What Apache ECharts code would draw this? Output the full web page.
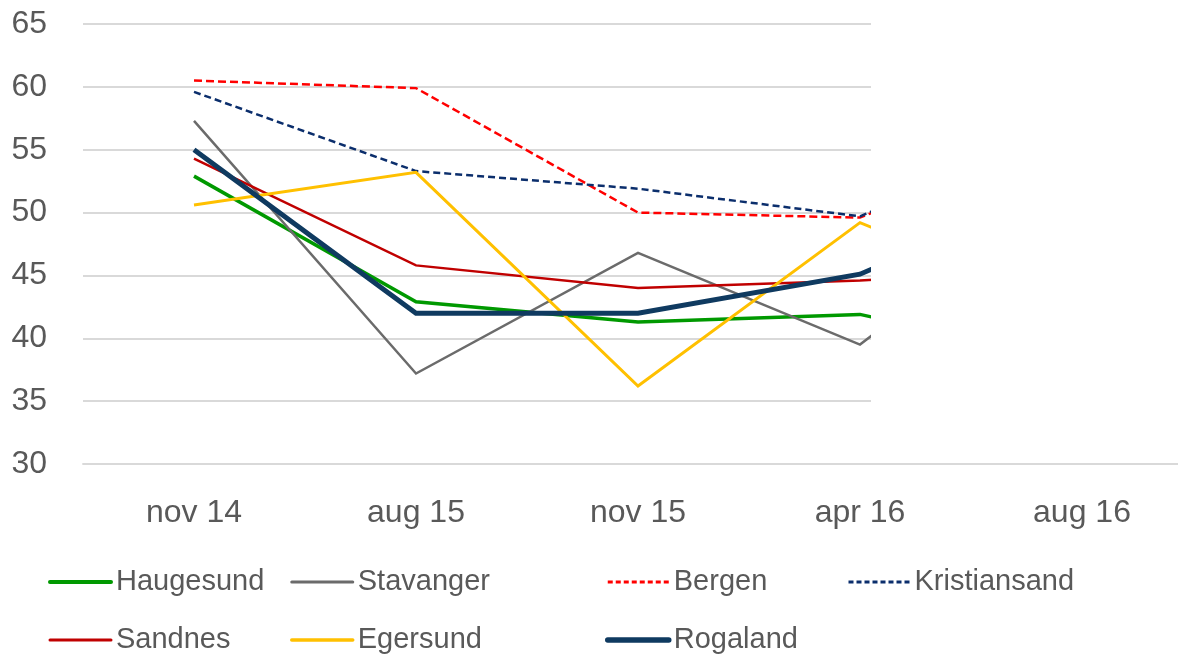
<!DOCTYPE html>
<html>
<head>
<meta charset="utf-8">
<script src="https://cdn.jsdelivr.net/npm/echarts@6/dist/echarts.min.js"></script>
<style>
  html, body { margin: 0; padding: 0; background: #ffffff; overflow: hidden; }
  #wrap { width: 1178px; height: 657px; overflow: hidden; }
  #chart { width: 1200px; height: 657px; }
</style>
</head>
<body>
<div id="wrap"><div id="chart"></div></div>
<script>
// Periods on the x axis
const categories = ['nov 14', 'aug 15', 'nov 15', 'apr 16', 'aug 16'];

// Index values per region
const haugesund    = [52.9, 42.9, 41.3, 41.9, 38.0];
const stavanger    = [57.3, 37.2, 46.8, 39.5, 53.0];
const bergen       = [60.5, 59.9, 50.0, 49.6, 56.6];
const kristiansand = [59.6, 53.3, 51.9, 49.7, 57.3];
const sandnes      = [54.3, 45.8, 44.0, 44.6, 45.6];
const egersund     = [50.6, 53.2, 36.2, 49.2, 42.0];
const rogaland     = [55.0, 42.0, 42.0, 45.1, 52.7];

// Value axis range
const yMin = 30;
const yMax = 65;
const yStep = 5;

const FONT = '"Liberation Sans", Arial, sans-serif';
const TEXT_COLOR = '#595959';

// Per-region line look
const styles = {
  Haugesund:    { color: '#009900', width: 3.5, type: 'solid' },
  Stavanger:    { color: '#6b6b6b', width: 2.5, type: 'solid' },
  Bergen:       { color: '#ff0000', width: 2.5, type: [8, 4] },
  Kristiansand: { color: '#0b2e6c', width: 2.5, type: [7, 4] },
  Sandnes:      { color: '#c00000', width: 2.5, type: 'solid' },
  Egersund:     { color: '#ffc000', width: 3, type: 'solid' },
  Rogaland:     { color: '#0f3a60', width: 5, type: 'solid' }
};

function lineSeries(name, data) {
  const s = styles[name];
  return {
    name: name,
    type: 'line',
    data: data,
    symbol: 'none',
    showSymbol: false,
    smooth: false,
    animation: false,
    lineStyle: { color: s.color, width: s.width, type: s.type, cap: 'butt', join: 'miter' },
    itemStyle: { color: s.color }
  };
}

function legendColumn(left, names) {
  return {
    left: left,
    top: 565,
    orient: 'vertical',
    padding: 0,
    itemGap: 24,
    itemWidth: 61,
    itemHeight: 14,
    selectedMode: false,
    data: names.map(function (n) {
      const s = styles[n];
      return {
        name: n,
        lineStyle: {
          color: s.color,
          width: s.width + 0.5,
          type: s.type === 'solid' ? 'solid' : [5, 3],
          cap: s.type === 'solid' ? 'round' : 'butt'
        }
      };
    }),
    // line-only keys: hide the marker drawn in the middle of each key
    itemStyle: { opacity: 0, color: 'transparent', borderWidth: 0 },
    textStyle: {
      fontFamily: FONT,
      fontSize: 29,
      color: TEXT_COLOR,
      lineHeight: 34
    }
  };
}

const chart = echarts.init(document.getElementById('chart'), null, { renderer: 'canvas' });

chart.setOption({
  backgroundColor: '#ffffff',
  animation: false,
  grid: { left: 83, top: 24, width: 1110, height: 440, containLabel: false },
  xAxis: {
    type: 'category',
    data: categories,
    boundaryGap: true,
    axisLine: { show: true, lineStyle: { color: '#d9d9d9', width: 1.8 } },
    axisTick: { show: false },
    axisLabel: { fontFamily: FONT, fontSize: 32, color: TEXT_COLOR, margin: 33, interval: 0 },
    splitLine: { show: false }
  },
  yAxis: {
    type: 'value',
    min: yMin,
    max: yMax,
    interval: yStep,
    axisLine: { show: false },
    axisTick: { show: false },
    axisLabel: { fontFamily: FONT, fontSize: 32, color: TEXT_COLOR, margin: 36 },
    splitLine: { show: true, lineStyle: { color: '#d9d9d9', width: 1.8 } }
  },
  legend: [
    legendColumn(48, ['Haugesund', 'Sandnes']),
    legendColumn(290, ['Stavanger', 'Egersund']),
    legendColumn(605, ['Bergen', 'Rogaland']),
    legendColumn(847, ['Kristiansand'])
  ],
  series: [
    lineSeries('Haugesund', haugesund),
    lineSeries('Stavanger', stavanger),
    lineSeries('Bergen', bergen),
    lineSeries('Kristiansand', kristiansand),
    lineSeries('Sandnes', sandnes),
    lineSeries('Egersund', egersund),
    lineSeries('Rogaland', rogaland)
  ],
  // Blank panel over the right part of the plot area
  graphic: [{
    type: 'rect',
    z: 100,
    silent: true,
    shape: { x: 871, y: 0, width: 340, height: 457 },
    style: { fill: '#ffffff' }
  }]
});
</script>
</body>
</html>
